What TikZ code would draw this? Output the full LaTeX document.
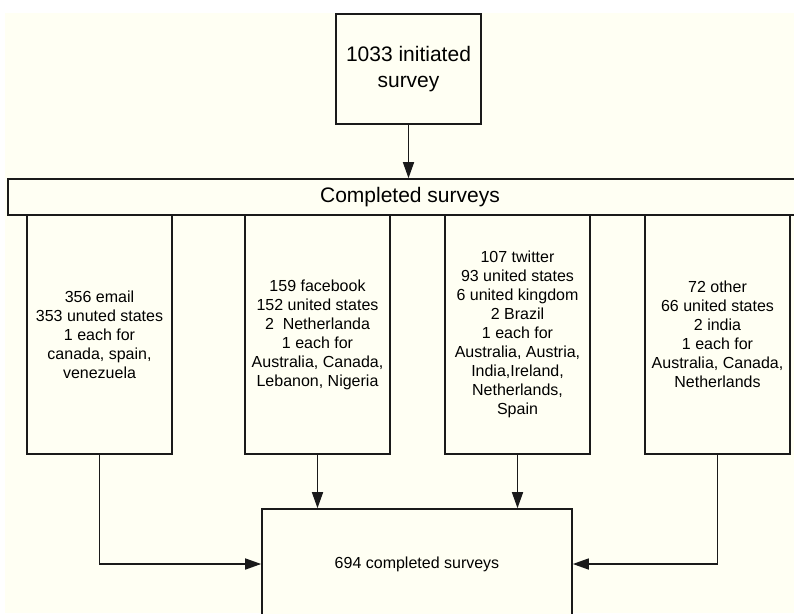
\documentclass[tikz,border=0pt]{standalone}
\usepackage{fontspec}
\setmainfont{Liberation Sans}
\usetikzlibrary{positioning,arrows.meta,calc}
\definecolor{paper}{HTML}{FFFFF3}
\definecolor{ink}{HTML}{1A1A1A}

\tikzset{
  stagebox/.style={draw=ink,line width=1.6pt,fill=paper,inner sep=2pt,align=center},
  srcbox/.style={stagebox,minimum width=145pt,minimum height=239pt,font=\fontsize{16}{19}\selectfont},
  flow/.style={draw=ink,line width=1.5pt,-{Triangle[length=16pt,width=11pt]}}
}

\begin{document}
\begin{tikzpicture}[x=1pt,y=-1pt]
        \useasboundingbox (0,0) rectangle (794,613);
        \clip (0,0) rectangle (794,613);
        \fill[paper] (5,13) rectangle (794,613);
        % top of the flow
        \node[stagebox,minimum width=145pt,minimum height=110pt,font=\fontsize{21}{26}\selectfont] (start) at (408.5,69) {1033 initiated\\survey};
        \node[stagebox,minimum width=804pt,minimum height=36pt,font=\fontsize{21}{26}\selectfont] (done) at (410,197) {Completed surveys};
        \draw[flow] (start) -- (start |- done.north);
        % one box per channel
        \node[srcbox] (email) at (99.5,334.5) {356 email\\353 unuted states\\1 each for\\canada, spain,\\venezuela};
        \node[srcbox] (facebook) at (317.5,334.5) {159 facebook\\152 united states\\2\ \ Netherlanda\\1 each for\\Australia, Canada,\\Lebanon, Nigeria};
        \node[srcbox] (twitter) at (517.5,334.5) {107 twitter\\93 united states\\6 united kingdom\\2 Brazil\\1 each for\\Australia, Austria,\\India,Ireland,\\Netherlands,\\Spain};
        \node[srcbox] (other) at (717.5,334.5) {72 other\\66 united states\\2 india\\1 each for\\Australia, Canada,\\Netherlands};
        % total
        \node[stagebox,minimum width=310pt,minimum height=110pt,font=\fontsize{16}{19}\selectfont] (total) at (417,564) {694 completed surveys};
        \draw[flow] (email.south) |- (total.west);
        \draw[flow] (facebook.south) -- (facebook.south |- total.north);
        \draw[flow] (twitter.south) -- (twitter.south |- total.north);
        \draw[flow] (other.south) |- (total.east);
      \end{tikzpicture}
\end{document}
